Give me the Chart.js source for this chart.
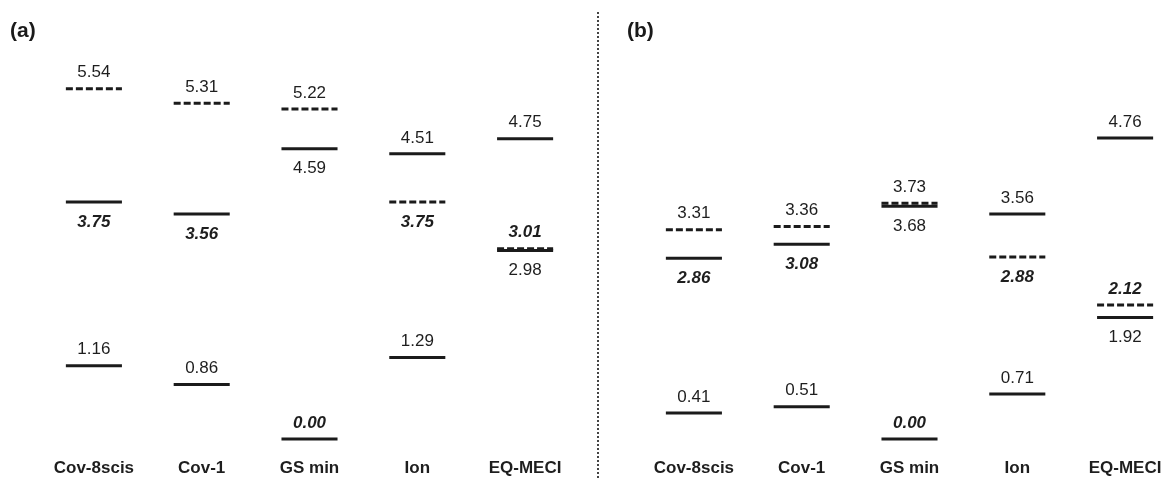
<!DOCTYPE html>
<html>
<head>
<meta charset="utf-8">
<script src="https://cdn.jsdelivr.net/npm/chart.js@4/dist/chart.umd.min.js"></script>
<style>
  html, body { margin: 0; padding: 0; background: #fff; overflow: hidden; width: 1165px; height: 478px; }
  .panel { position: absolute; top: 0; width: 600px; height: 478px; }
  .plabel { position: absolute; top: 18px; font: bold 21px "Liberation Sans", Arial, sans-serif; color: #1a1a1a; }
  #divider { position: absolute; left: 597px; top: 12px; height: 466px; border-left: 2px dotted #444; width: 0; }
</style>
</head>
<body>
<div class="panel" style="left:0"><canvas id="chartA" width="600" height="478"></canvas></div>
<div class="panel" style="left:600px"><canvas id="chartB" width="600" height="478"></canvas></div>
<div id="divider"></div>
<div class="plabel" style="left:10px">(a)</div>
<div class="plabel" style="left:627px">(b)</div>
<script>
// ---- data ----
const categories = ['Cov-8scis', 'Cov-1', 'GS min', 'Ion', 'EQ-MECI'];

// panel (a)
const dashedA = [5.54, 5.31, 5.22, 3.75, 3.01];
const upperSolidA = [3.75, 3.56, 4.59, 4.51, 4.75];
const lowerSolidA = [1.16, 0.86, 0.00, 1.29, 2.98];

// panel (b)
const dashedB = [3.31, 3.36, 3.73, 2.88, 2.12];
const upperSolidB = [2.86, 3.08, 3.68, 3.56, 4.76];
const lowerSolidB = [0.41, 0.51, 0.00, 0.71, 1.92];

// which level's label is bold italic, per category
const emphasized = ['upper', 'upper', 'lower', 'dashed', 'dashed'];
// label side for each series, per category
const sideDashed = ['above', 'above', 'above', 'below', 'above'];
const sideUpper = ['below', 'below', 'below', 'above', 'above'];
const sideLower = ['above', 'above', 'above', 'above', 'below'];

// ---- styling ----
const HALF = 0.26;
const LINE_COLOR = '#1b1b1b';
const TEXT_COLOR = '#1e1e1e';
const FONT = '"Liberation Sans", Arial, sans-serif';

function buildDatasets(series) {
  const ds = [];
  series.forEach(s => {
    s.values.forEach((v, i) => {
      ds.push({
        data: [{x: i - HALF, y: v}, {x: i + HALF, y: v}],
        showLine: true,
        borderColor: LINE_COLOR,
        borderWidth: 3,
        borderDash: s.dashed ? [7, 3] : [],
        borderCapStyle: 'butt',
        pointRadius: 0,
        pointHoverRadius: 0,
        clip: false,
        order: s.dashed ? 0 : 1
      });
    });
  });
  return ds;
}

const labelPlugin = {
  id: 'levelLabels',
  afterDatasetsDraw(chart, args, opts) {
    const ctx = chart.ctx;
    const xs = chart.scales.x, ys = chart.scales.y;
    ctx.save();
    ctx.fillStyle = TEXT_COLOR;
    ctx.textAlign = 'center';
    ctx.textBaseline = 'middle';
    opts.series.forEach(s => {
      s.values.forEach((v, i) => {
        const x = xs.getPixelForValue(i);
        const y = ys.getPixelForValue(v);
        const emph = emphasized[i] === s.key;
        ctx.font = (emph ? 'italic bold ' : '') + '17px ' + FONT;
        const ty = s.side[i] === 'above' ? y - 16 : y + 20;
        ctx.fillText(v.toFixed(2), x, ty);
      });
    });
    ctx.restore();
  }
};

function makeChart(id, series) {
  return new Chart(document.getElementById(id), {
    type: 'scatter',
    data: { datasets: buildDatasets(series) },
    options: {
      responsive: false,
      animation: false,
      devicePixelRatio: 1,
      layout: { padding: { left: 40, right: 21, top: 28, bottom: 0 } },
      plugins: {
        legend: { display: false },
        tooltip: { enabled: false },
        levelLabels: { series: series }
      },
      scales: {
        x: {
          type: 'linear',
          min: -0.5, max: 4.5,
          grid: { display: false, drawTicks: false },
          border: { display: false },
          afterBuildTicks: (scale) => { scale.ticks = categories.map((c, i) => ({ value: i })); },
          afterFit: (scale) => { scale.height = 39; },
          ticks: {
            autoSkip: false, maxRotation: 0, padding: 19,
            color: TEXT_COLOR,
            font: { family: FONT, size: 17, weight: 'bold' },
            callback: (v) => categories[v]
          }
        },
        y: { display: false, min: 0, max: 6.5 }
      }
    },
    plugins: [labelPlugin]
  });
}

makeChart('chartA', [
  { key: 'lower', values: lowerSolidA, dashed: false, side: sideLower },
  { key: 'upper', values: upperSolidA, dashed: false, side: sideUpper },
  { key: 'dashed', values: dashedA, dashed: true, side: sideDashed }
]);
makeChart('chartB', [
  { key: 'lower', values: lowerSolidB, dashed: false, side: sideLower },
  { key: 'upper', values: upperSolidB, dashed: false, side: sideUpper },
  { key: 'dashed', values: dashedB, dashed: true, side: sideDashed }
]);
</script>
</body>
</html>
